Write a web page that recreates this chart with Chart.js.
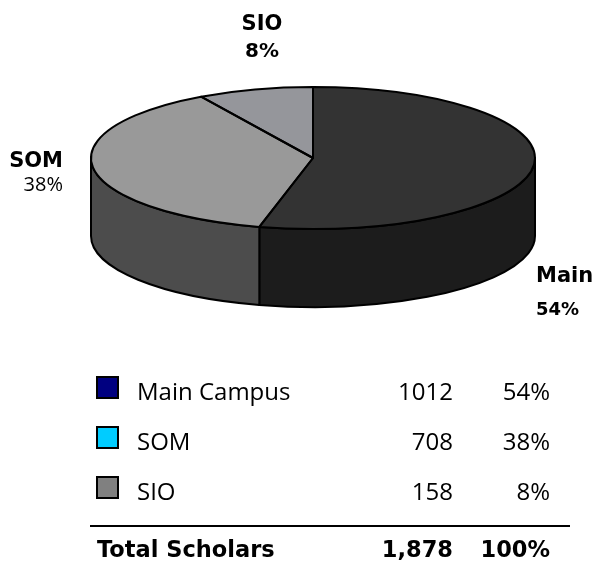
<!DOCTYPE html>
<html>
<head>
<meta charset="utf-8">
<script src="https://cdn.jsdelivr.net/npm/chart.js@4/dist/chart.umd.min.js"></script>
<style>
  html, body { margin:0; padding:0; background:#fff; }
  #wrap { position:relative; width:595px; height:565px; overflow:hidden; font-family:"Open Sans", sans-serif; color:#000; }
  canvas { position:absolute; left:0; top:0; }
  .row { position:absolute; left:0; width:595px; height:22px; font-size:24px; line-height:22px; white-space:nowrap; }
  .sw { position:absolute; left:96px; width:19px; height:19px; border:2px solid #000; top:-4px; }
  .name { position:absolute; left:137px; top:0; }
  .num { position:absolute; right:142px; top:0; text-align:right; }
  .pct { position:absolute; right:45px; top:0; text-align:right; }
  .row.bold { font-family:"DejaVu Sans", sans-serif; font-weight:bold; font-size:22.5px; }
  .row.bold .name { left:97px; }
  #rule { position:absolute; left:90px; width:480px; top:525px; height:2px; background:#000; }
</style>
</head>
<body>
<div id="wrap">
  <canvas id="c" width="595" height="565"></canvas>
  <div id="table"></div>
  <div id="rule"></div>
</div>
<script>
// ---- data ----
const categories = ['Main Campus', 'SOM', 'SIO'];
const pieLabels = ['Main', 'SOM', 'SIO'];
const scholars = [1012, 708, 158];
const percentLabels = ['54%', '38%', '8%'];
const totalLabel = 'Total Scholars';
const totalCount = '1,878';
const totalPercent = '100%';

// ---- styles ----
const topColors = ['#333333', '#999999', '#95969b'];
const sideColors = ['#1c1c1c', '#4c4c4c', '#5a5a5e'];
const legendColors = ['#000080', '#00ccff', '#808080'];
const rowTops = [380, 430, 480];
const totalTop = 538;

// pie label placement (style)
const labelStyle = [
  { x: 536, align: 'left',  y1: 282, y2: 315, f1: 'bold 21px "DejaVu Sans"', f2: 'bold 18px "DejaVu Sans"' },
  { x: 63,  align: 'right', y1: 167, y2: 191, f1: 'bold 21px "DejaVu Sans"', f2: '20px "Open Sans"' },
  { x: 262, align: 'center', y1: 30, y2: 57, f1: 'bold 21px "DejaVu Sans"', f2: 'bold 20px "DejaVu Sans"' }
];

const CY = 158, RY = 71, DEPTH = 78;

function visibleRanges(a1, a2) {
  const out = [];
  for (let k = -2; k <= 2; k++) {
    const lo = Math.max(a1, 2 * Math.PI * k), hi = Math.min(a2, 2 * Math.PI * k + Math.PI);
    if (hi > lo + 1e-6) out.push([lo, hi]);
  }
  return out;
}

const pie3d = {
  id: 'pie3d',
  beforeDatasetsDraw(chart) {
    const ctx = chart.ctx;
    const meta = chart.getDatasetMeta(0);
    const el0 = meta.data[0];
    const cx = el0.x, cyData = el0.y, rx = el0.outerRadius;
    ctx.save();
    ctx.lineWidth = 2;
    ctx.strokeStyle = '#000';
    ctx.lineJoin = 'round';
    meta.data.forEach((el, i) => {
      visibleRanges(el.startAngle, el.endAngle).forEach(([s, e]) => {
        ctx.beginPath();
        ctx.ellipse(cx, CY, rx, RY, 0, s, e, false);
        ctx.lineTo(cx + rx * Math.cos(e), CY + RY * Math.sin(e) + DEPTH);
        ctx.ellipse(cx, CY + DEPTH, rx, RY, 0, e, s, true);
        ctx.closePath();
        ctx.fillStyle = sideColors[i];
        ctx.fill();
        ctx.stroke();
      });
    });
    ctx.restore();
    ctx.save();
    ctx.translate(cx, CY);
    ctx.scale(1, RY / rx);
    ctx.translate(-cx, -cyData);
  },
  afterDatasetsDraw(chart) {
    const ctx = chart.ctx;
    ctx.restore();
    const meta = chart.getDatasetMeta(0);
    const el0 = meta.data[0];
    const cx = el0.x, rx = el0.outerRadius;
    ctx.save();
    ctx.lineWidth = 2;
    ctx.strokeStyle = '#000';
    ctx.lineJoin = 'round';
    meta.data.forEach((el) => {
      ctx.beginPath();
      ctx.moveTo(cx, CY);
      ctx.ellipse(cx, CY, rx, RY, 0, el.startAngle, el.endAngle, false);
      ctx.closePath();
      ctx.stroke();
    });
    ctx.fillStyle = '#000';
    ctx.textBaseline = 'alphabetic';
    meta.data.forEach((el, i) => {
      const L = labelStyle[i];
      ctx.textAlign = L.align;
      ctx.font = L.f1;
      ctx.fillText(pieLabels[i], L.x, L.y1);
      ctx.font = L.f2;
      ctx.fillText(percentLabels[i], L.x, L.y2);
    });
    ctx.restore();
  }
};

new Chart(document.getElementById('c'), {
  type: 'pie',
  data: {
    labels: categories,
    datasets: [{
      data: scholars,
      backgroundColor: topColors,
      borderWidth: 0,
      hoverOffset: 0,
      offset: 0,
      radius: 222,
      clip: false
    }]
  },
  options: {
    responsive: false,
    animation: false,
    events: [],
    layout: { padding: { left: 91, right: 60, top: 0, bottom: 121 } },
    plugins: { legend: { display: false }, tooltip: { enabled: false } }
  },
  plugins: [pie3d]
});

const table = document.getElementById('table');
categories.forEach((c, i) => {
  const row = document.createElement('div');
  row.className = 'row';
  row.style.top = rowTops[i] + 'px';
  row.innerHTML = '<div class="sw" style="background:' + legendColors[i] + '"></div>' +
    '<div class="name">' + c + '</div>' +
    '<div class="num">' + scholars[i] + '</div>' +
    '<div class="pct">' + percentLabels[i] + '</div>';
  table.appendChild(row);
});
const tot = document.createElement('div');
tot.className = 'row bold';
tot.style.top = totalTop + 'px';
tot.innerHTML = '<div class="name">' + totalLabel + '</div>' +
  '<div class="num">' + totalCount + '</div>' +
  '<div class="pct">' + totalPercent + '</div>';
table.appendChild(tot);
</script>
</body>
</html>
